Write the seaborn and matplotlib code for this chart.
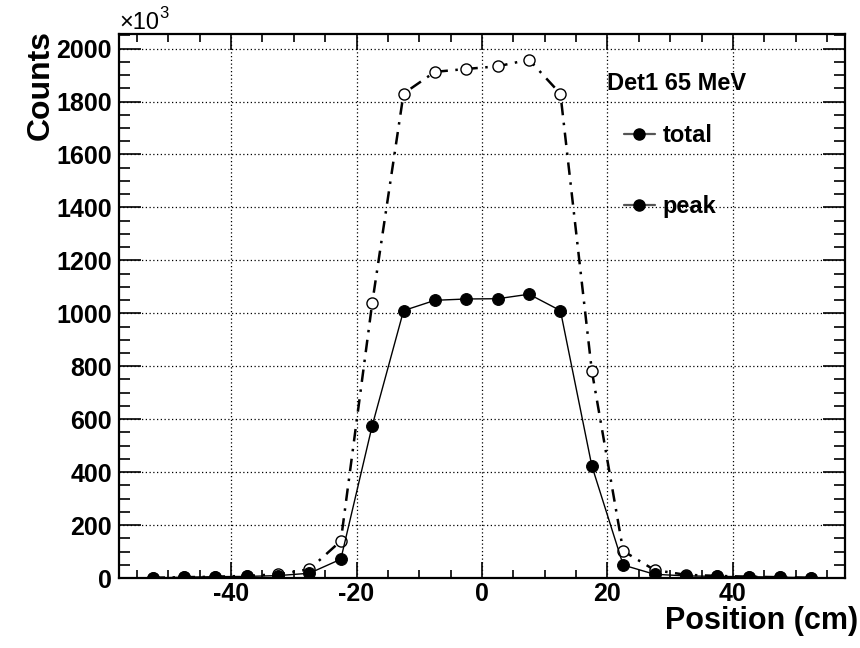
import matplotlib
matplotlib.use("Agg")
import matplotlib.pyplot as plt
from matplotlib.lines import Line2D
from matplotlib.ticker import MultipleLocator
import seaborn as sns
import pandas as pd

# Beam position scan, detector 1 at 65 MeV (counts in units of 10^3)
position = [-52.5, -47.5, -42.5, -37.5, -32.5, -27.5, -22.5, -17.5, -12.5, -7.5, -2.5,
            2.5, 7.5, 12.5, 17.5, 22.5, 27.5, 32.5, 37.5, 42.5, 47.5, 52.5]
total_counts = [1, 3, 5, 8, 14, 33, 140, 1038, 1830, 1912, 1923,
                1933, 1958, 1829, 783, 102, 30, 12, 8, 5, 3, 1]
peak_counts = [0, 3, 5, 6, 9, 18, 71, 575, 1010, 1049, 1054,
               1055, 1072, 1010, 424, 49, 14, 8, 6, 5, 3, 1]

x_ticks = [-40, -20, 0, 20, 40]
y_ticks = [0, 200, 400, 600, 800, 1000, 1200, 1400, 1600, 1800, 2000]
series_labels = ["total", "peak"]
title_text = "Det1 65 MeV"

df = pd.DataFrame({"position": position, "total": total_counts, "peak": peak_counts})

sns.set_theme(style="ticks")
plt.rcParams["font.family"] = ["Liberation Sans", "DejaVu Sans"]
plt.rcParams["font.weight"] = "bold"
plt.rcParams["text.color"] = "black"
plt.rcParams["axes.labelcolor"] = "black"
plt.rcParams["xtick.color"] = "black"
plt.rcParams["ytick.color"] = "black"
plt.rcParams["axes.unicode_minus"] = False

W, H = 860, 648
fig = plt.figure(figsize=(W / 100, H / 100), dpi=100)
ax = fig.add_axes([119 / W, 1 - 578 / H, (845 - 119) / W, (578 - 34) / H])

# total: dash-dot line with open circles
sns.lineplot(data=df, x="position", y="total", ax=ax, color="black", linewidth=1.8,
             marker="o", markersize=8, markerfacecolor="white", markeredgecolor="black",
             markeredgewidth=1.0, zorder=3)
ax.lines[-1].set_linestyle((0, (5, 3, 1, 3)))
# peak: solid thin line with filled circles
sns.lineplot(data=df, x="position", y="peak", ax=ax, color="black", linewidth=1.0,
             marker="o", markersize=8.5, markerfacecolor="black", markeredgecolor="black",
             zorder=4)

ax.set_xlim(-57.85, 57.85)
ax.set_ylim(0, 2055)
ax.set_xticks(x_ticks)
ax.set_yticks(y_ticks)
ax.xaxis.set_minor_locator(MultipleLocator(5))
ax.yaxis.set_minor_locator(MultipleLocator(50))
ax.set_xlabel("")
ax.set_ylabel("")

ax.grid(True, which="major", color="black", linestyle=(0, (1, 2)), linewidth=0.9)
ax.set_axisbelow(True)

for s in ax.spines.values():
    s.set_linewidth(1.6)
    s.set_color("black")

ax.tick_params(axis="both", which="both", direction="in", top=True, right=True,
               colors="black", labelcolor="black", width=1.2)
ax.tick_params(axis="x", which="major", length=11.5, pad=3, labelsize=18)
ax.tick_params(axis="x", which="minor", length=5.8)
ax.tick_params(axis="y", which="major", length=15.8, pad=5, labelsize=18)
ax.tick_params(axis="y", which="minor", length=7.9)
for lab in ax.get_xticklabels() + ax.get_yticklabels():
    lab.set_fontweight("bold")
    lab.set_color("black")

# axis titles and exponent
fig.text(858 / W, 1 - 629 / H, "Position (cm)", ha="right", va="baseline",
         fontsize=22, fontweight="bold", color="black")
fig.text(41 / W, 1 - 30 / H, "Counts", ha="center", va="top", rotation=90,
         fontsize=23, fontweight="bold", color="black")
fig.text(119 / W, 1 - 29 / H, "\u00d710", ha="left", va="baseline",
         fontsize=17, fontweight="normal", color="black")
fig.text(159 / W, 1 - 18 / H, "3", ha="left", va="baseline",
         fontsize=12, fontweight="normal", color="black")

# legend
fig.text(607 / W, 1 - 84 / H, title_text, ha="left", va="center",
         fontsize=17, fontweight="bold", color="black")
handles = [Line2D([], [], color="#555555", linewidth=1.6, marker="o", markersize=8,
                  markerfacecolor="black", markeredgecolor="black") for _ in series_labels]
leg = ax.legend(handles, series_labels, loc="upper left",
                bbox_to_anchor=(624 / W, 1 - 124 / H), bbox_transform=fig.transFigure,
                frameon=False, fontsize=17, handlelength=1.3, handletextpad=0.35,
                labelspacing=2.05, borderpad=0, borderaxespad=0)
for t in leg.get_texts():
    t.set_fontweight("bold")
    t.set_color("black")

fig.savefig("out.png", dpi=100, facecolor="white")
